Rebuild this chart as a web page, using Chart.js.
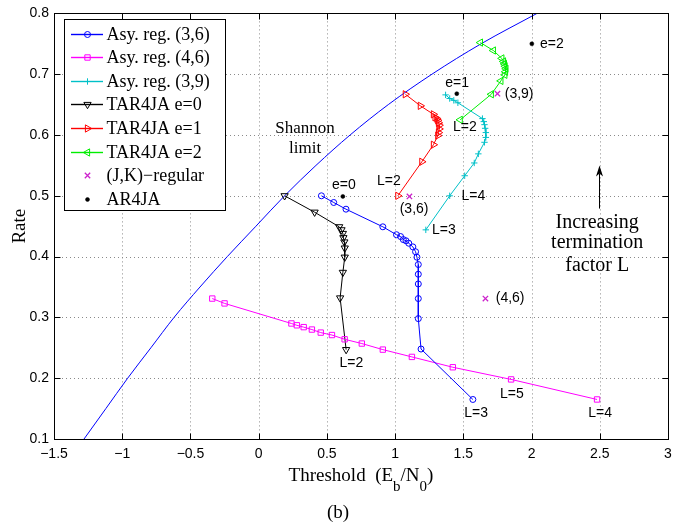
<!DOCTYPE html>
<html><head><meta charset="utf-8">
<script src="https://cdn.jsdelivr.net/npm/chart.js@4.4.1/dist/chart.umd.min.js"></script>
<style>html,body{margin:0;padding:0;background:#fff}canvas{display:block}</style>
</head><body>
<canvas id="c" width="692" height="525"></canvas>
<script>
// ---- data ----
const shannonX = [-1.28, -1.12, -0.96, -0.79, -0.62, -0.43, -0.23, -0.02, 0.19, 0.42, 0.67, 0.95, 1.27, 1.63, 2.04];
const shannonY = [0.10, 0.15, 0.20, 0.25, 0.30, 0.35, 0.40, 0.45, 0.50, 0.55, 0.60, 0.65, 0.70, 0.75, 0.80];

const asy36X = [0.46, 0.55, 0.64, 0.91, 1.01, 1.04, 1.06, 1.08, 1.10, 1.13, 1.15, 1.16, 1.17, 1.17, 1.17, 1.17, 1.17, 1.19, 1.57];
const asy36Y = [0.500, 0.489, 0.478, 0.449, 0.436, 0.433, 0.428, 0.426, 0.422, 0.416, 0.408, 0.399, 0.387, 0.371, 0.355, 0.331, 0.298, 0.248, 0.165];

const asy46X = [-0.34, -0.25, 0.24, 0.28, 0.33, 0.39, 0.455, 0.537, 0.63, 0.756, 0.91, 1.123, 1.423, 1.85, 2.48];
const asy46Y = [0.331, 0.323, 0.290, 0.287, 0.284, 0.280, 0.275, 0.271, 0.264, 0.257, 0.247, 0.235, 0.218, 0.198, 0.165];

const asy39X = [1.37, 1.40, 1.43, 1.46, 1.64, 1.65, 1.655, 1.66, 1.665, 1.665, 1.655, 1.61, 1.58, 1.51, 1.40, 1.225];
const asy39Y = [0.666, 0.660, 0.657, 0.653, 0.627, 0.622, 0.617, 0.611, 0.604, 0.596, 0.588, 0.569, 0.554, 0.533, 0.500, 0.444];

const tar0X = [0.19, 0.41, 0.59, 0.607, 0.617, 0.621, 0.628, 0.631, 0.631, 0.617, 0.597, 0.641];
const tar0Y = [0.500, 0.473, 0.449, 0.444, 0.438, 0.431, 0.424, 0.414, 0.399, 0.374, 0.332, 0.247];

const tar1X = [1.075, 1.185, 1.281, 1.293, 1.306, 1.313, 1.318, 1.323, 1.323, 1.318, 1.313, 1.281, 1.196, 1.02];
const tar1Y = [0.667, 0.648, 0.634, 0.629, 0.627, 0.624, 0.620, 0.616, 0.610, 0.604, 0.599, 0.584, 0.556, 0.500];

const tar2X = [1.625, 1.72, 1.782, 1.794, 1.801, 1.806, 1.812, 1.809, 1.804, 1.775, 1.705, 1.477];
const tar2Y = [0.752, 0.739, 0.726, 0.721, 0.717, 0.713, 0.709, 0.704, 0.699, 0.689, 0.667, 0.625];

const regX = [1.105, 1.662, 1.75];
const regY = [0.499, 0.331, 0.668];

const ar4jaX = [0.617, 1.452, 2.002];
const ar4jaY = [0.499, 0.668, 0.750];

const xTicks = [-1.5, -1, -0.5, 0, 0.5, 1, 1.5, 2, 2.5, 3];
const yTicks = [0.1, 0.2, 0.3, 0.4, 0.5, 0.6, 0.7, 0.8];

const seriesLabels = ['Asy. reg. (3,6)', 'Asy. reg. (4,6)', 'Asy. reg. (3,9)', 'TAR4JA e=0', 'TAR4JA e=1', 'TAR4JA e=2', '(J,K)\u2212regular', 'AR4JA'];

// annotation texts (positions in data units)
const notes = [
  {t:'Shannon', x:0.34, y:0.611, f:'17px "Liberation Serif"'},
  {t:'limit', x:0.34, y:0.578, f:'17px "Liberation Serif"'},
  {t:'e=0', x:0.625, y:0.517},
  {t:'e=1', x:1.455, y:0.685},
  {t:'e=2', x:2.149, y:0.750},
  {t:'L=2', x:0.954, y:0.524},
  {t:'(3,6)', x:1.139, y:0.478},
  {t:'(3,9)', x:1.909, y:0.668},
  {t:'L=2', x:1.511, y:0.613},
  {t:'L=4', x:1.574, y:0.499},
  {t:'L=3', x:1.357, y:0.443},
  {t:'L=2', x:0.680, y:0.224},
  {t:'(4,6)', x:1.843, y:0.331},
  {t:'L=5', x:1.856, y:0.173},
  {t:'L=3', x:1.594, y:0.143},
  {t:'L=4', x:2.503, y:0.142},
  {t:'Increasing', x:2.481, y:0.456, f:'20px "Liberation Serif"'},
  {t:'termination', x:2.481, y:0.423, f:'20px "Liberation Serif"'},
  {t:'factor L', x:2.481, y:0.385, f:'20px "Liberation Serif"'}
];
const arrow = {x:2.496, y0:0.479, y1:0.550};

const BLUE='#0000ff', MAG='#ff00ff', CYAN='#00c0c8', BLACK='#000000', RED='#ff0000', GREEN='#00ee00', PURP='#cc22cc';

function pts(xs, ys){ return xs.map((x,i)=>({x:x, y:ys[i]})); }
function lineSet(label, xs, ys, color, style, radius, rot){
  return {label:label, data:pts(xs,ys), showLine:true, borderColor:color, borderWidth:1,
    pointStyle:style, pointRadius:radius, pointRotation:rot||0, pointBorderColor:color,
    pointBackgroundColor:'rgba(0,0,0,0)', pointBorderWidth:1, inLegend:true, legendColor:color};
}

const datasets = [
  lineSet(seriesLabels[0], asy36X, asy36Y, BLUE, 'circle', 3),
  lineSet(seriesLabels[1], asy46X, asy46Y, MAG, 'rect', 3.8),
  lineSet(seriesLabels[2], asy39X, asy39Y, CYAN, 'cross', 3.2),
  lineSet(seriesLabels[3], tar0X, tar0Y, BLACK, 'triangle', 4.2, 180),
  lineSet(seriesLabels[4], tar1X, tar1Y, RED, 'triangle', 4.2, 90),
  lineSet(seriesLabels[5], tar2X, tar2Y, GREEN, 'triangle', 4.2, 270),
  {label:seriesLabels[6], data:pts(regX, regY), showLine:false, pointStyle:'crossRot', pointRadius:3.8,
    pointBorderColor:PURP, pointBorderWidth:1.3, borderColor:PURP, legendColor:PURP, inLegend:true, legendNoLine:true},
  {label:seriesLabels[7], data:pts(ar4jaX, ar4jaY), showLine:false, pointStyle:'circle', pointRadius:2,
    pointBorderColor:BLACK, pointBackgroundColor:BLACK, pointBorderWidth:0.5, borderColor:BLACK, legendColor:BLACK, legendFill:true, inLegend:true, legendNoLine:true},
  {label:'Shannon limit', data:pts(shannonX, shannonY), showLine:true, borderColor:BLUE, borderWidth:1,
    pointRadius:0, cubicInterpolationMode:'monotone', inLegend:false}
];

const fmt = v => (v < 0 ? '\u2212' : '') + String(Math.abs(Math.round(v*10)/10));

const decor = {
  id:'decor',
  beforeDatasetsDraw(chart){
    const ctx = chart.ctx, a = chart.chartArea, xs = chart.scales.x, ys = chart.scales.y;
    ctx.save();
    ctx.strokeStyle = '#8a8a8a'; ctx.lineWidth = 1; ctx.setLineDash([1,3]);
    xTicks.forEach(v => { const p = Math.round(xs.getPixelForValue(v)) + 0.5;
      ctx.beginPath(); ctx.moveTo(p, a.top); ctx.lineTo(p, a.bottom); ctx.stroke(); });
    yTicks.forEach(v => { const p = Math.round(ys.getPixelForValue(v)) + 0.5;
      ctx.beginPath(); ctx.moveTo(a.left, p); ctx.lineTo(a.right, p); ctx.stroke(); });
    ctx.restore();
  },
  afterDraw(chart){
    const ctx = chart.ctx, a = chart.chartArea, xs = chart.scales.x, ys = chart.scales.y;
    ctx.save();
    // box + inward ticks
    ctx.strokeStyle = '#000'; ctx.lineWidth = 1; ctx.setLineDash([]);
    const L = Math.round(a.left)+0.5, R = Math.round(a.right)+0.5, T = Math.round(a.top)+0.5, B = Math.round(a.bottom)+0.5;
    ctx.strokeRect(L, T, R-L, B-T);
    const tl = 6;
    ctx.beginPath();
    xTicks.forEach(v => { const p = Math.round(xs.getPixelForValue(v)) + 0.5;
      ctx.moveTo(p, B); ctx.lineTo(p, B - tl); ctx.moveTo(p, T); ctx.lineTo(p, T + tl); });
    yTicks.forEach(v => { const p = Math.round(ys.getPixelForValue(v)) + 0.5;
      ctx.moveTo(L, p); ctx.lineTo(L + tl, p); ctx.moveTo(R, p); ctx.lineTo(R - tl, p); });
    ctx.stroke();

    // annotations
    ctx.fillStyle = '#000'; ctx.textAlign = 'center'; ctx.textBaseline = 'middle';
    notes.forEach(n => {
      ctx.font = n.f || '14px "Liberation Sans"';
      ctx.fillText(n.t, xs.getPixelForValue(n.x), ys.getPixelForValue(n.y));
    });
    // arrow
    const ax = Math.round(xs.getPixelForValue(arrow.x)) + 0.5;
    const ay0 = ys.getPixelForValue(arrow.y0), ay1 = ys.getPixelForValue(arrow.y1);
    ctx.beginPath(); ctx.moveTo(ax, ay0); ctx.lineTo(ax, ay1 + 8); ctx.stroke();
    ctx.beginPath(); ctx.moveTo(ax, ay1); ctx.lineTo(ax - 3.5, ay1 + 11); ctx.lineTo(ax, ay1 + 8); ctx.lineTo(ax + 3.5, ay1 + 11); ctx.closePath(); ctx.fill();

    // legend
    const lx = 64.5, ly = 19.5, lw = 161, lh = 191;
    ctx.fillStyle = '#fff'; ctx.fillRect(lx, ly, lw, lh);
    ctx.strokeStyle = '#000'; ctx.strokeRect(lx, ly, lw, lh);
    const items = datasets.filter(d => d.inLegend);
    items.forEach((d, i) => {
      const y = Math.round(33.5 + i * 23.6) + 0.5;
      const col = d.legendColor;
      ctx.setLineDash([]);
      if (!d.legendNoLine) {
        ctx.strokeStyle = col; ctx.lineWidth = 1.4;
        ctx.beginPath(); ctx.moveTo(71, y); ctx.lineTo(103, y); ctx.stroke();
      }
      ctx.strokeStyle = col; ctx.fillStyle = d.legendFill ? col : 'rgba(0,0,0,0)';
      ctx.lineWidth = d.pointBorderWidth || 1;
      Chart.helpers.drawPoint(ctx, {pointStyle:d.pointStyle, radius:d.pointRadius, rotation:d.pointRotation||0, borderWidth:d.pointBorderWidth||1}, 87.5, y);
      ctx.fillStyle = '#000'; ctx.textAlign = 'left'; ctx.textBaseline = 'middle';
      ctx.font = '18px "Liberation Serif"';
      ctx.fillText(d.label, 106.5, y + 1);
    });

    // axis titles
    ctx.fillStyle = '#000';
    ctx.textBaseline = 'alphabetic';
    const parts = [['Threshold  (E', 0], ['b', 1], ['/N', 0], ['0', 1], [')', 0]];
    const subF = '15px "Liberation Serif"', mainF = '19px "Liberation Serif"';
    let tw = 0;
    parts.forEach(p => { ctx.font = p[1] ? subF : mainF; tw += ctx.measureText(p[0]).width; });
    let cx = (a.left + a.right) / 2 - tw / 2;
    ctx.textAlign = 'left';
    parts.forEach(p => { ctx.font = p[1] ? subF : mainF; ctx.fillText(p[0], cx, p[1] ? 491 : 481); cx += ctx.measureText(p[0]).width; });
    ctx.textAlign = 'center';
    ctx.font = mainF;
    ctx.fillText('(b)', 338, 518);
    ctx.save();
    ctx.translate(20, (a.top + a.bottom) / 2);
    ctx.rotate(-Math.PI / 2);
    ctx.textBaseline = 'middle';
    ctx.fillText('Rate', 0, 0);
    ctx.restore();
    ctx.restore();
  }
};

new Chart(document.getElementById('c'), {
  type:'scatter',
  data:{datasets:datasets},
  options:{
    responsive:false, animation:false, devicePixelRatio:1, events:[],
    layout:{padding:{top:13, right:24, left:0, bottom:0}},
    plugins:{legend:{display:false}, tooltip:{enabled:false}, title:{display:false}},
    scales:{
      x:{type:'linear', min:-1.5, max:3,
        afterFit(s){ s.height = 86; },
        afterBuildTicks(s){ s.ticks = xTicks.map(v => ({value:v})); },
        grid:{display:false, drawTicks:false}, border:{display:false},
        ticks:{autoSkip:false, maxRotation:0, padding:7, color:'#000', font:{family:'"Liberation Sans"', size:14}, callback:v => fmt(v)}},
      y:{type:'linear', min:0.1, max:0.8,
        afterFit(s){ s.width = 54; },
        afterBuildTicks(s){ s.ticks = yTicks.map(v => ({value:v})); },
        grid:{display:false, drawTicks:false}, border:{display:false},
        ticks:{autoSkip:false, padding:5, color:'#000', font:{family:'"Liberation Sans"', size:14}, callback:v => fmt(v)}}
    }
  },
  plugins:[decor]
});
</script></body></html>
